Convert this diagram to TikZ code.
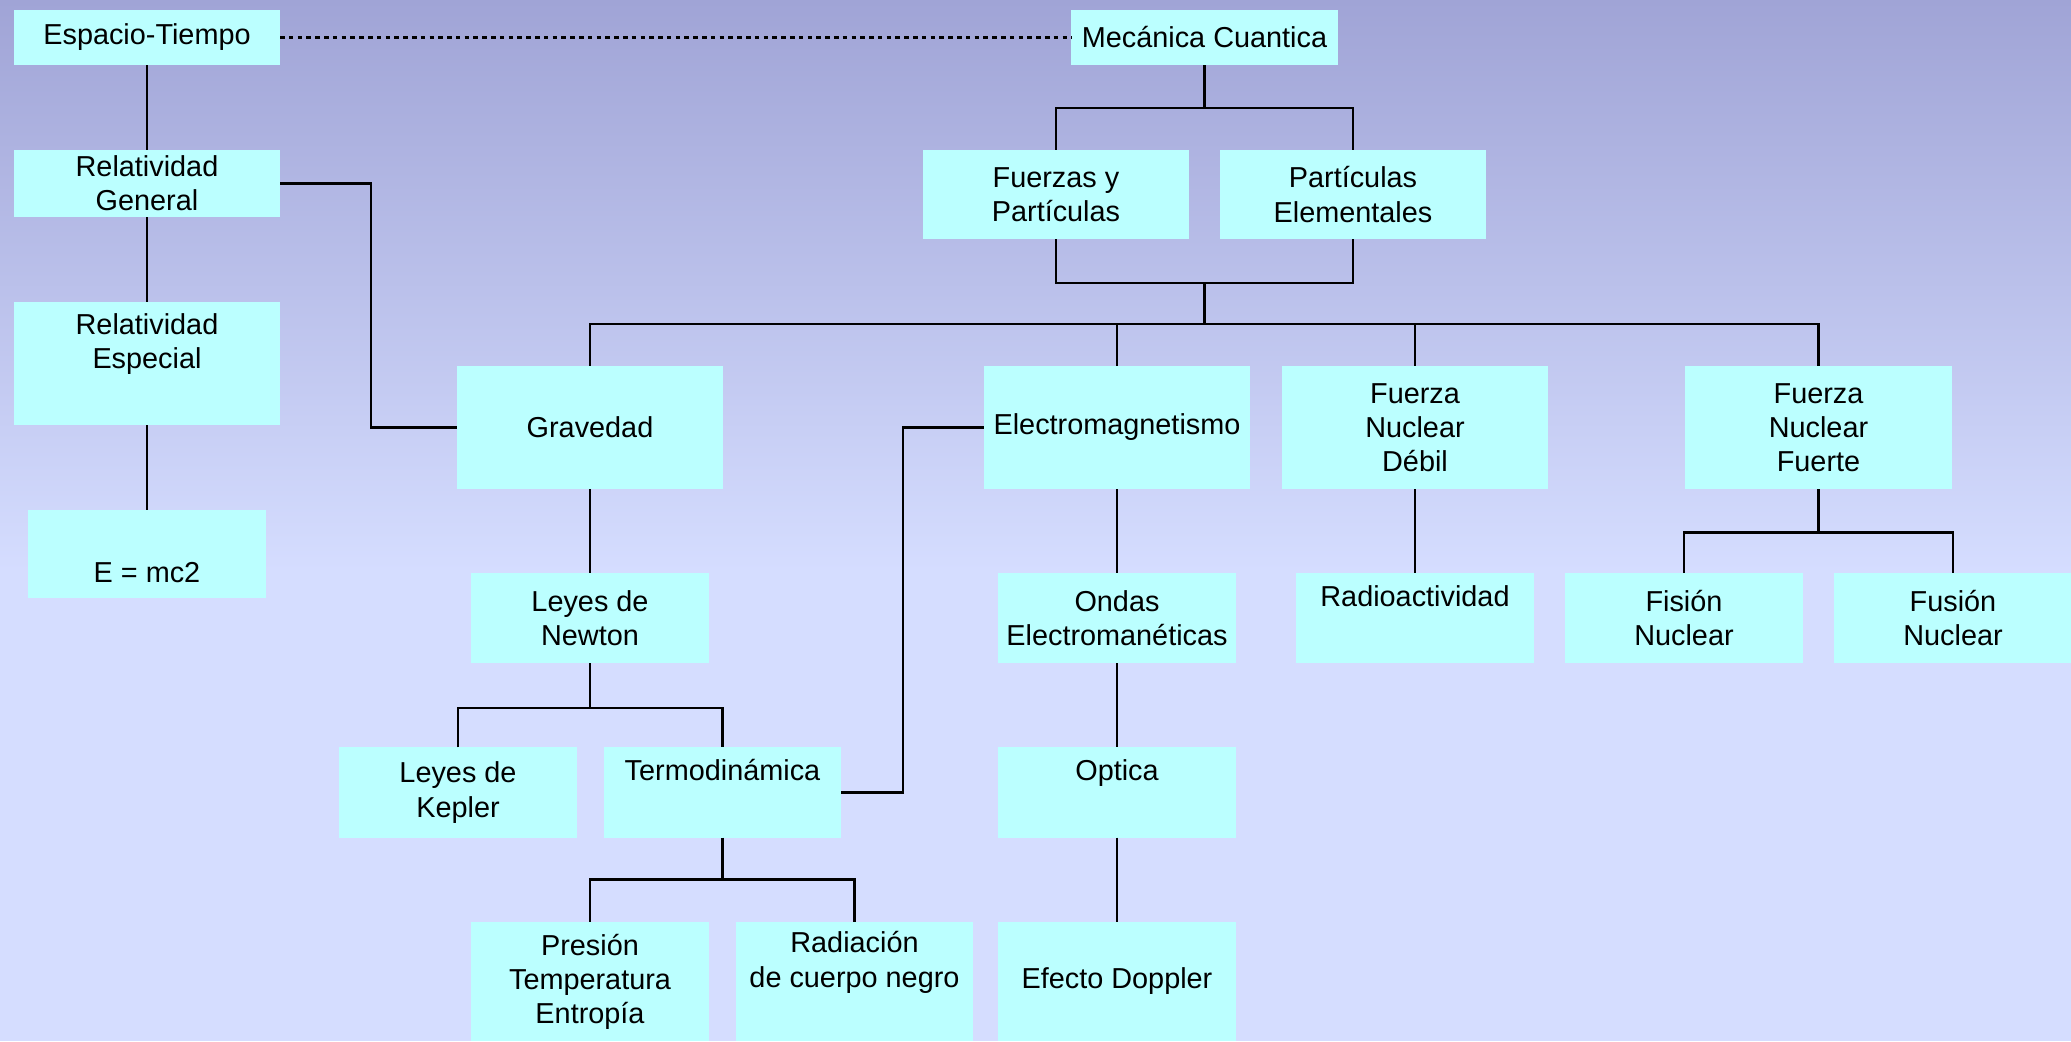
\documentclass[tikz,border=0pt]{standalone}
\usepackage{fontspec}
\setmainfont{Liberation Sans}
\definecolor{boxcyan}{RGB}{187,255,255}
\definecolor{bgtop}{RGB}{160,164,214}
\definecolor{bgbottom}{RGB}{213,221,255}
\tikzstyle{topic}=[fill=boxcyan, inner sep=0pt, outer sep=0pt, align=center, font=\fontsize{8.2}{9.7}\selectfont]
\tikzstyle{wide}=[topic, minimum width=2.66cm]
\tikzstyle{narrow}=[topic, minimum width=2.37cm]
\tikzstyle{link}=[line width=0.7pt]

\begin{document}
\begin{tikzpicture}[x=0.01cm, y=-0.01cm]
            \useasboundingbox (0,0) rectangle (2071,1041);
            \shade[top color=bgtop, bottom color=bgbottom] (0,0) rectangle (2071,571);
            \fill[bgbottom] (0,570) rectangle (2071,1041);
            \node[wide, minimum height=0.55cm] at (147,37.5) (ET) {Espacio-Tiempo};
            \node[wide, minimum height=0.55cm] at (1204.5,37.5) (MC) {Mecánica Cuantica};
            \node[wide, minimum height=0.67cm] at (147,183.5) (RG) {Relatividad\\General};
            \node[wide, minimum height=1.23cm] at (147,363.5) (RE) {Relatividad\\Especial\\\strut};
            \node[narrow, minimum height=0.88cm] at (147,554) (Emc) {\strut\\E = mc2};
            \node[wide, minimum height=0.89cm] at (1056,194.5) (FyP) {Fuerzas y\\Partículas};
            \node[wide, minimum height=0.89cm] at (1353,194.5) (PE) {Partículas\\Elementales};
            \node[wide, minimum height=1.23cm] at (590,427.5) (Grav) {Gravedad};
            \node[wide, minimum height=1.23cm] at (1117,427.5) (Electro) {Electromagnetismo};
            \node[wide, minimum height=1.23cm] at (1415,427.5) (Debil) {Fuerza\\Nuclear\\Débil};
            \node[wide, minimum height=1.23cm] at (1818.5,427.5) (Fuerte) {Fuerza\\Nuclear\\Fuerte};
            \node[narrow, minimum height=0.9cm] at (590,618) (Newton) {Leyes de\\Newton};
            \node[narrow, minimum height=0.9cm] at (1117,618) (Ondas) {Ondas\\Electromanéticas};
            \node[narrow, minimum height=0.9cm] at (1415,618) (Radio) {Radioactividad\\\strut};
            \node[narrow, minimum height=0.9cm] at (1684,618) (Fision) {Fisión\\Nuclear};
            \node[narrow, minimum height=0.9cm] at (1953,618) (Fusion) {Fusión\\Nuclear};
            \node[narrow, minimum height=0.9cm] at (458,792.5) (Kepler) {Leyes de\\Kepler};
            \node[narrow, minimum height=0.9cm] at (722.5,792.5) (Termo) {Termodinámica\\\strut};
            \node[narrow, minimum height=0.9cm] at (1117,792.5) (Optica) {Optica\\\strut};
            \node[narrow, minimum height=1.19cm] at (590,981.5) (Presion) {Presión\\Temperatura\\Entropía};
            \node[narrow, minimum height=1.19cm] at (854.5,981.5) (Radiacion) {Radiación\\de cuerpo negro\\\strut};
            \node[narrow, minimum height=1.19cm] at (1117,981.5) (Doppler) {\strut\\Efecto Doppler\\\strut};
            \coordinate (hub) at (1204.5,324);
            \draw[link, dash pattern=on 1.3pt off 1.2pt] (ET) -- (MC);
            \draw[link] (ET) -- (RG);
            \draw[link] (RG) -- (RE);
            \draw[link] (RE) -- (Emc);
            \draw[link] (MC.south) -- ++(0,43);
            \draw[link] (FyP.north) -- ++(0,-42) -| (PE.north);
            \draw[link] (FyP.south) -- ++(0,44) -| (PE.south);
            \draw[link] (hub) -- ++(0,-41);
            \draw[link] (Grav.north) |- (hub) -| (Fuerte.north);
            \draw[link] (Electro.north) -- (Electro.north |- hub);
            \draw[link] (Debil.north) -- (Debil.north |- hub);
            \draw[link] (RG.east) -- ++(91,0) |- (Grav.west);
            \draw[link] (Grav) -- (Newton);
            \draw[link] (Newton.south) -- ++(0,45);
            \draw[link] (Kepler.north) -- ++(0,-39.5) -| (Termo.north);
            \draw[link] (Termo.east) -- ++(62,0) |- (Electro.west);
            \draw[link] (Termo.south) -- ++(0,42);
            \draw[link] (Presion.north) -- ++(0,-42.5) -| (Radiacion.north);
            \draw[link] (Electro) -- (Ondas);
            \draw[link] (Ondas) -- (Optica);
            \draw[link] (Optica) -- (Doppler);
            \draw[link] (Debil) -- (Radio);
            \draw[link] (Fuerte.south) -- ++(0,44);
            \draw[link] (Fision.north) -- ++(0,-40.5) -| (Fusion.north);
        \end{tikzpicture}
\end{document}
